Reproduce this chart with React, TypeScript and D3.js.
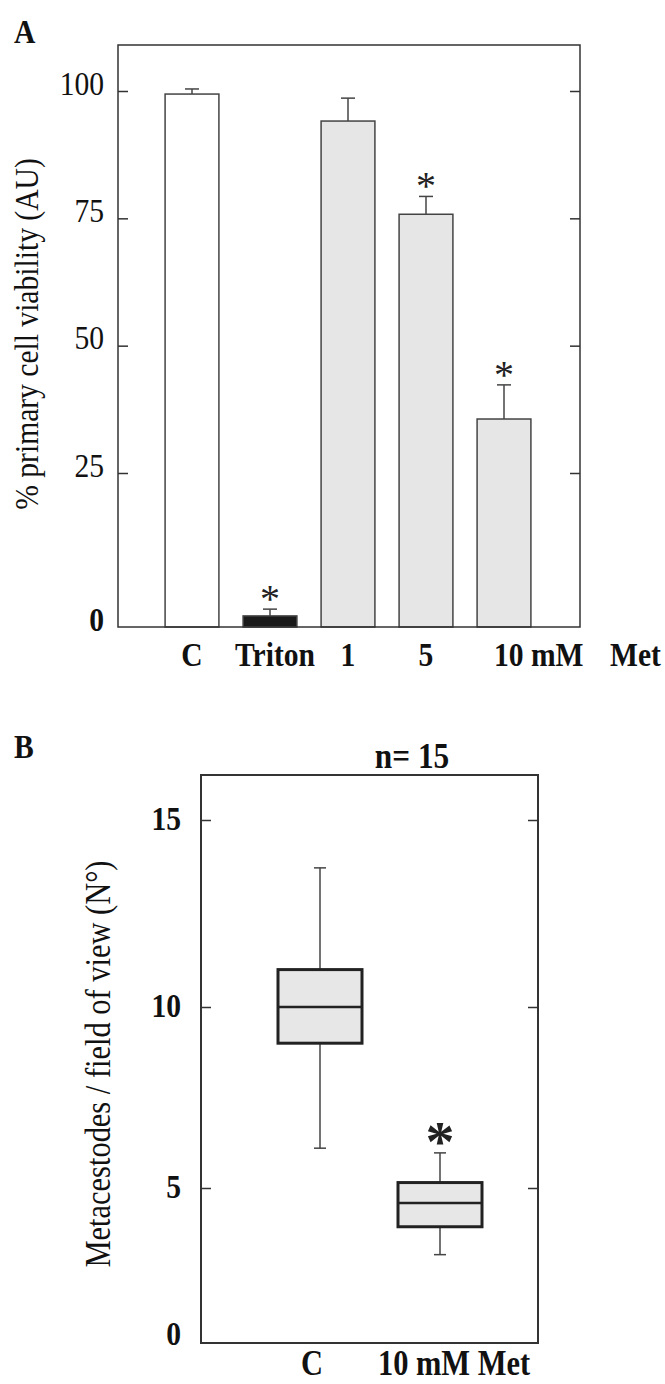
import React, { useRef, useEffect } from "react";
import * as d3 from "d3";

// panel A: viability bars
const categoriesA = ["C", "Triton", "1", "5", "10"];
const viability = [99.4, 1.8, 94.1, 75.8, 35.6];
const viabilityErr = [1.0, 1.1, 4.5, 3.5, 6.7];
const significantA = [false, true, false, true, true];
const yTicksA = [0, 25, 50, 75, 100];

// panel B: metacestodes boxplot
const groupsB = ["C", "10 mM Met"];
const mins = [6.1, 2.85];
const q1s = [9.0, 3.75];
const medians = [10.0, 4.52];
const q3s = [11.0, 5.15];
const maxs = [13.72, 5.97];
const significantB = [false, true];
const yTicksB = [0, 5, 10, 15];

const FONT = "'Liberation Serif', 'Times New Roman', serif";
const SQ = 0.87; // the original type is a bit condensed
const W = 665;
const H = 1384;

// text with a horizontal squeeze in its own coordinates
const addText = (g, { x, y, text, size, bold = false, anchor = "start", rotate = 0, fill = "#111" }) =>
  g
    .append("text")
    .attr("transform", `translate(${x},${y}) rotate(${rotate}) scale(${SQ},1)`)
    .attr("text-anchor", anchor)
    .attr("font-size", size)
    .attr("font-weight", bold ? "bold" : "normal")
    .attr("fill", fill)
    .text(text);

const App = () => {
  const svgRef = useRef(null);

  useEffect(() => {
    const svg = d3.select(svgRef.current);
    svg.selectAll("*").remove();
    svg.style("font-family", FONT);

    // ---------- panel A ----------
    const frameA = { left: 118, right: 580, top: 45, bottom: 627 };
    const x = d3
      .scaleBand()
      .domain(categoriesA)
      .range([153, 543])
      .paddingInner(0.31)
      .paddingOuter(0.155);
    // the original axis is not linear below 25
    const y = d3.scaleLinear().domain([0, 25, 100]).range([627, 473, 91]);

    const gA = svg.append("g");
    addText(gA, { x: 14, y: 43, text: "A", size: 34, bold: true });

    const fill = ["#ffffff", "#1a1a1a", "#e6e6e6", "#e6e6e6", "#e6e6e6"];
    gA.selectAll("rect.bar")
      .data(viability)
      .enter()
      .append("rect")
      .attr("class", "bar")
      .attr("x", (d, i) => x(categoriesA[i]))
      .attr("y", (d) => y(d))
      .attr("width", x.bandwidth())
      .attr("height", (d) => y(0) - y(d))
      .attr("fill", (d, i) => fill[i])
      .attr("stroke", "#444")
      .attr("stroke-width", 1.5);

    // error bars (upper only)
    viability.forEach((v, i) => {
      const cx = x(categoriesA[i]) + x.bandwidth() / 2;
      const top = y(v + viabilityErr[i]);
      gA.append("line")
        .attr("x1", cx)
        .attr("x2", cx)
        .attr("y1", y(v))
        .attr("y2", top)
        .attr("stroke", "#444")
        .attr("stroke-width", 1.5);
      gA.append("line")
        .attr("x1", cx - 7)
        .attr("x2", cx + 7)
        .attr("y1", top)
        .attr("y2", top)
        .attr("stroke", "#444")
        .attr("stroke-width", 1.5);
      if (significantA[i]) {
        gA.append("text")
          .attr("x", cx)
          .attr("y", top - 16 + 19)
          .attr("text-anchor", "middle")
          .attr("font-size", 40)
          .attr("fill", "#222")
          .text("*");
      }
    });

    // frame
    gA.append("rect")
      .attr("x", frameA.left)
      .attr("y", frameA.top)
      .attr("width", frameA.right - frameA.left)
      .attr("height", frameA.bottom - frameA.top)
      .attr("fill", "none")
      .attr("stroke", "#333")
      .attr("stroke-width", 1.5);

    const axA = gA
      .append("g")
      .attr("transform", `translate(${frameA.left},0)`)
      .call(d3.axisLeft(y).tickValues(yTicksA).tickSize(-10).tickPadding(14));
    axA.select(".domain").remove();
    axA.selectAll(".tick line").attr("stroke", "#333").attr("stroke-width", 1.5);
    axA.selectAll(".tick").filter((d) => d === 0).select("line").remove();
    axA.selectAll(".tick text")
      .attr("font-family", FONT)
      .attr("font-size", 34)
      .attr("fill", "#111")
      .attr("x", -14 / SQ)
      .attr("dy", "3px")
      .attr("transform", `scale(${SQ},1)`)
      .attr("font-weight", (d) => (d === 0 ? "bold" : "normal"));

    const axA2 = gA
      .append("g")
      .attr("transform", `translate(${frameA.right},0)`)
      .call(d3.axisRight(y).tickValues(yTicksA.filter((d) => d > 0)).tickSize(-10).tickFormat(() => ""));
    axA2.select(".domain").remove();
    axA2.selectAll(".tick line").attr("stroke", "#333").attr("stroke-width", 1.5);

    // category labels
    categoriesA.forEach((c, i) => {
      const cx = x(c) + x.bandwidth() / 2;
      const last = i === categoriesA.length - 1;
      addText(gA, {
        x: last ? cx - 10 : cx + (i === 1 ? 5 : 0),
        y: 666,
        text: last ? `${c} mM` : c,
        size: 34,
        bold: true,
        anchor: last ? "start" : "middle",
      });
    });
    addText(gA, { x: 610, y: 666, text: "Met", size: 34, bold: true });

    addText(gA, {
      x: 38,
      y: 334,
      text: "% primary cell viability (AU)",
      size: 34,
      anchor: "middle",
      rotate: -90,
    });

    // ---------- panel B ----------
    const frameB = { left: 201, right: 538, top: 775, bottom: 1343 };
    const xb = d3
      .scaleBand()
      .domain(groupsB)
      .range([260, 500])
      .paddingInner(0.3)
      .paddingOuter(0.15);
    const yb = d3.scaleLinear().domain([0, 5, 10, 15]).range([1343, 1188, 1007, 820]);

    const gB = svg.append("g");
    addText(gB, { x: 14, y: 758, text: "B", size: 34, bold: true });
    addText(gB, { x: 412, y: 768, text: "n= 15", size: 36, bold: true, anchor: "middle" });

    groupsB.forEach((g, i) => {
      const x0 = xb(g);
      const bw = xb.bandwidth();
      const cx = x0 + bw / 2;
      // whiskers
      [
        [yb(q3s[i]), yb(maxs[i])],
        [yb(q1s[i]), yb(mins[i])],
      ].forEach(([a, b]) => {
        gB.append("line")
          .attr("x1", cx)
          .attr("x2", cx)
          .attr("y1", a)
          .attr("y2", b)
          .attr("stroke", "#444")
          .attr("stroke-width", 1.5);
        gB.append("line")
          .attr("x1", cx - 6)
          .attr("x2", cx + 6)
          .attr("y1", b)
          .attr("y2", b)
          .attr("stroke", "#444")
          .attr("stroke-width", 1.5);
      });
      gB.append("rect")
        .attr("x", x0)
        .attr("y", yb(q3s[i]))
        .attr("width", bw)
        .attr("height", yb(q1s[i]) - yb(q3s[i]))
        .attr("fill", "#e6e7e6")
        .attr("stroke", "#222")
        .attr("stroke-width", 3);
      gB.append("line")
        .attr("x1", x0)
        .attr("x2", x0 + bw)
        .attr("y1", yb(medians[i]))
        .attr("y2", yb(medians[i]))
        .attr("stroke", "#222")
        .attr("stroke-width", 2.5);
      if (significantB[i]) {
        gB.append("text")
          .attr("x", cx)
          .attr("y", yb(maxs[i]) - 20 + 28)
          .attr("text-anchor", "middle")
          .attr("font-size", 58)
          .attr("font-weight", "bold")
          .attr("fill", "#222")
          .text("*");
      }
      addText(gB, {
        x: i === 0 ? cx - 8 : cx + 14,
        y: 1375,
        text: g,
        size: 35,
        bold: true,
        anchor: "middle",
      });
    });

    gB.append("rect")
      .attr("x", frameB.left)
      .attr("y", frameB.top)
      .attr("width", frameB.right - frameB.left)
      .attr("height", frameB.bottom - frameB.top)
      .attr("fill", "none")
      .attr("stroke", "#333")
      .attr("stroke-width", 2);

    const axB = gB
      .append("g")
      .attr("transform", `translate(${frameB.left},0)`)
      .call(d3.axisLeft(yb).tickValues(yTicksB).tickSize(-10).tickPadding(20));
    axB.select(".domain").remove();
    axB.selectAll(".tick line").attr("stroke", "#333").attr("stroke-width", 1.5);
    axB.selectAll(".tick").filter((d) => d === 0).select("line").remove();
    axB.selectAll(".tick text")
      .attr("font-family", FONT)
      .attr("font-size", 34)
      .attr("font-weight", "bold")
      .attr("fill", "#111")
      .attr("x", -20 / SQ)
      .attr("transform", `scale(${SQ},1)`)
      .attr("dy", (d) => (d === 0 ? "1px" : "9px"));

    const axB2 = gB
      .append("g")
      .attr("transform", `translate(${frameB.right},0)`)
      .call(d3.axisRight(yb).tickValues(yTicksB.filter((d) => d > 0)).tickSize(-10).tickFormat(() => ""));
    axB2.select(".domain").remove();
    axB2.selectAll(".tick line").attr("stroke", "#333").attr("stroke-width", 1.5);

    addText(gB, {
      x: 110,
      y: 1064,
      text: "Metacestodes / field of view (N°)",
      size: 35,
      anchor: "middle",
      rotate: -90,
    });
  }, []);

  return (
    <svg
      ref={svgRef}
      width={W}
      height={H}
      style={{ position: "absolute", left: 0, top: 0, background: "#fff" }}
    />
  );
};

export default App;
